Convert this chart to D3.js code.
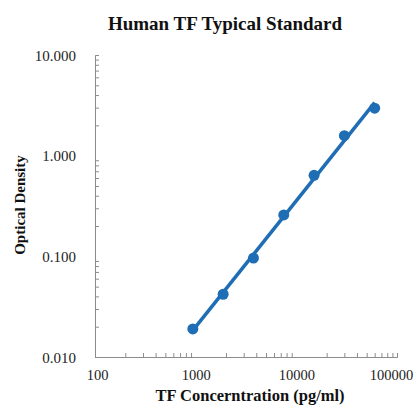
<!DOCTYPE html>
<html><head><meta charset="utf-8">
<script src="https://cdn.jsdelivr.net/npm/d3@7"></script>
<style>body{margin:0;background:#fff}svg{display:block}</style>
</head><body>
<svg id="chart" width="418" height="408"></svg>
<script>
const concentrations = [937.5, 1875, 3750, 7500, 15000, 30000, 60000];
const odValues = [0.019, 0.042, 0.096, 0.258, 0.638, 1.58, 2.96];
const xTicks = [100, 1000, 10000, 100000];
const yTicks = [0.01, 0.1, 1, 10];
const title = "Human TF Typical Standard";
const xTitle = "TF Concerntration (pg/ml)";
const yTitle = "Optical Density";

const svg = d3.select("#chart");
const font = "'Liberation Serif','Times New Roman',serif";
const x = d3.scaleLog().domain([100, 100000]).range([95, 397]);
const y = d3.scaleLog().domain([0.01, 10]).range([357, 55]);
const axisColor = "#8c8c8c";

// minor ticks
const xMinor = [];
for (let d = 100; d < 100000; d *= 10) for (let k = 2; k <= 9; k++) xMinor.push(d * k);
const yMinor = [];
for (let d = 0.01; d < 10; d *= 10) for (let k = 2; k <= 9; k++) yMinor.push(d * k);

const gx = svg.append("g").attr("transform", "translate(0,357)")
  .call(d3.axisTop(x).tickValues(xMinor).tickSize(4).tickFormat(""));
const gy = svg.append("g").attr("transform", "translate(95,0)")
  .call(d3.axisRight(y).tickValues(yMinor).tickSize(4).tickFormat(""));
const gx2 = svg.append("g").attr("transform", "translate(0,357)")
  .call(d3.axisBottom(x).tickValues(xTicks).tickSize(0).tickPadding(13).tickFormat(d3.format("d")));
const gy2 = svg.append("g").attr("transform", "translate(95,0)")
  .call(d3.axisLeft(y).tickValues(yTicks).tickSize(0).tickPadding(19).tickFormat(d3.format(".3f")));
[gx, gy, gx2, gy2].forEach(g => {
  g.selectAll("path,line").attr("stroke", axisColor).attr("stroke-width", 1);
  g.selectAll("text").attr("font-family", font).attr("font-size", 15).attr("fill", "#222");
});
gy2.selectAll("text").attr("dy", "0.35em");
gx2.selectAll("text").attr("font-size", 14.5)
  .attr("dx", d => d === 100000 ? -6 : (d === 100 ? 2 : 0));

const pts = concentrations.map((c, i) => [c, odValues[i]]);
const color = "#1f6db4";

// power trendline (least squares on log-log) through the data
const lx = pts.map(d => Math.log10(d[0])), ly = pts.map(d => Math.log10(d[1]));
const mx = d3.mean(lx), my = d3.mean(ly);
const slope = d3.sum(lx, (v, i) => (v - mx) * (ly[i] - my)) / d3.sum(lx, v => (v - mx) * (v - mx));
const icpt = my - slope * mx;
const xExt = d3.extent(concentrations);
const fit = xExt.map(c => [c, Math.pow(10, icpt + slope * Math.log10(c))]);
svg.append("path").datum(fit)
  .attr("d", d3.line().x(d => x(d[0])).y(d => y(d[1])))
  .attr("fill", "none").attr("stroke", color).attr("stroke-width", 3.5);
svg.selectAll("circle.pt").data(pts).join("circle").attr("class", "pt")
  .attr("cx", d => x(d[0])).attr("cy", d => y(d[1])).attr("r", 5.5).attr("fill", color);

svg.append("text").attr("x", 225).attr("y", 30).attr("text-anchor", "middle")
  .attr("font-family", font).attr("font-weight", "bold").attr("font-size", 19).attr("fill", "#111").text(title);
svg.append("text").attr("x", 250).attr("y", 401).attr("text-anchor", "middle")
  .attr("font-family", font).attr("font-weight", "bold").attr("font-size", 16.5).attr("fill", "#111").text(xTitle);
svg.append("text").attr("transform", "translate(25,205) rotate(-90)").attr("text-anchor", "middle")
  .attr("font-family", font).attr("font-weight", "bold").attr("font-size", 15).attr("fill", "#111").text(yTitle);
</script>
</body></html>
